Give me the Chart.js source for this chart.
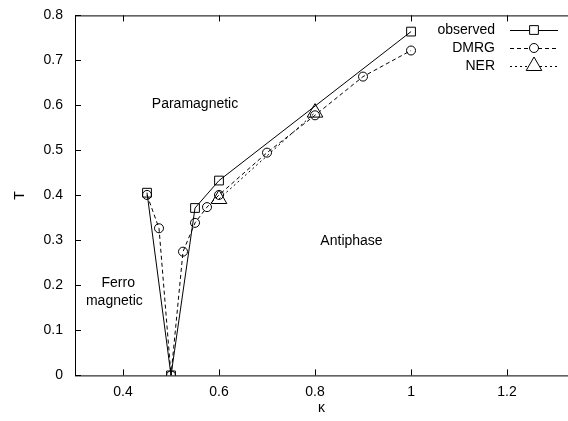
<!DOCTYPE html>
<html>
<head>
<meta charset="utf-8">
<script src="https://cdn.jsdelivr.net/npm/chart.js@4"></script>
<style>
  html, body { margin: 0; padding: 0; background: #fff; overflow: hidden; }
  body { width: 568px; height: 421px; position: relative; }
  /* frame runs past the right edge in the original, so the canvas is a bit wider and cropped */
  #wrap { width: 578px; height: 426px; position: absolute; left: 0; top: -5px; }
</style>
</head>
<body>
<div id="wrap"><canvas id="phaseChart"></canvas></div>
<script>
// data
const observedK = [0.45, 0.5, 0.55, 0.6, 1.0];
const observedT = [0.406, 0, 0.372, 0.433, 0.764];

const dmrgK = [0.45, 0.475, 0.5, 0.525, 0.55, 0.575, 0.6, 0.7, 0.8, 0.9, 1.0];
const dmrgT = [0.401, 0.327, 0, 0.275, 0.339, 0.374, 0.401, 0.495, 0.578, 0.664, 0.722];

const nerK = [0.6, 0.8];
const nerT = [0.392, 0.584];

const xTicks = [0.4, 0.6, 0.8, 1, 1.2];
const yTicks = [0, 0.1, 0.2, 0.3, 0.4, 0.5, 0.6, 0.7, 0.8];

const regionLabels = [
  { text: 'Paramagnetic', k: 0.55, t: 0.602 },
  { text: 'Antiphase', k: 0.876, t: 0.299 },
  { text: 'Ferro', k: 0.39, t: 0.205 },
  { text: 'magnetic', k: 0.382, t: 0.165 },
];

const FONT = '"Liberation Sans", Arial, Helvetica, sans-serif';

function toPoints(xs, ys) {
  return xs.map((x, i) => ({ x: x, y: ys[i] }));
}

const seriesStyle = [
  { label: 'observed', dash: [], pointStyle: 'rect', radius: 6.2 },
  { label: 'DMRG', dash: [4, 3], pointStyle: 'circle', radius: 4.5 },
  { label: 'NER', dash: [2, 3], pointStyle: 'triangle', radius: 9 },
];

// frame with inward ticks, legend and region names
const decorations = {
  id: 'decorations',
  afterDraw(chart) {
    const c = chart.ctx;
    const a = chart.chartArea;
    const xs = chart.scales.x, ys = chart.scales.y;
    c.save();
    c.strokeStyle = '#000';
    c.lineWidth = 1;
    c.setLineDash([]);
    c.beginPath();
    c.moveTo(a.left + 0.5, a.bottom + 0.5);
    c.lineTo(a.left + 0.5, a.top + 0.5);
    c.lineTo(a.right, a.top + 0.5);
    c.moveTo(a.left, a.bottom + 0.5);
    c.lineTo(a.right, a.bottom + 0.5);
    xTicks.forEach(v => {
      const px = Math.round(xs.getPixelForValue(v)) + 0.5;
      c.moveTo(px, a.bottom); c.lineTo(px, a.bottom - 6);
      c.moveTo(px, a.top); c.lineTo(px, a.top + 6);
    });
    yTicks.forEach(v => {
      const py = Math.round(ys.getPixelForValue(v)) + 0.5;
      c.moveTo(a.left, py); c.lineTo(a.left + 6, py);
    });
    c.stroke();

    c.fillStyle = '#000';
    c.font = '14px ' + FONT;
    c.textAlign = 'center';
    c.textBaseline = 'middle';
    regionLabels.forEach(r => {
      c.fillText(r.text, xs.getPixelForValue(r.k), ys.getPixelForValue(r.t));
    });

    // legend, top right inside the frame
    const textRight = 495, lineL = 510, lineR = 558, step = 18;
    const top = ys.getPixelForValue(0.768);
    chart.data.datasets.forEach((ds, i) => {
      const y = Math.round(top + i * step);
      c.fillStyle = '#000';
      c.textAlign = 'right';
      c.fillText(ds.label, textRight, y);
      c.beginPath();
      c.setLineDash(ds.borderDash);
      c.moveTo(lineL, y + 0.5); c.lineTo(lineR, y + 0.5);
      c.stroke();
      c.setLineDash([]);
      c.fillStyle = '#fff';
      Chart.helpers.drawPoint(c, {
        pointStyle: ds.pointStyle, radius: ds.pointRadius, borderWidth: 1, rotation: 0
      }, (lineL + lineR) / 2, y);
    });
    c.restore();
  }
};

const ctx = document.getElementById('phaseChart').getContext('2d');

const chart = new Chart(ctx, {
  type: 'scatter',
  data: {
    datasets: [
      { data: toPoints(observedK, observedT) },
      { data: toPoints(dmrgK, dmrgT) },
      { data: toPoints(nerK, nerT) },
    ].map((d, i) => ({
      label: seriesStyle[i].label,
      data: d.data,
      showLine: true,
      borderColor: '#000',
      backgroundColor: 'rgba(0,0,0,0)',
      borderWidth: 1,
      borderDash: seriesStyle[i].dash,
      pointStyle: seriesStyle[i].pointStyle,
      pointRadius: seriesStyle[i].radius,
      pointBorderWidth: 1,
      pointBorderColor: '#000',
      pointBackgroundColor: 'rgba(0,0,0,0)',
      tension: 0,
    })),
  },
  options: {
    responsive: true,
    maintainAspectRatio: false,
    animation: false,
    layout: { padding: { top: 0, right: 0, left: 0, bottom: 4 } },
    plugins: {
      legend: { display: false },
      tooltip: { enabled: false },
    },
    scales: {
      x: {
        type: 'linear',
        min: 0.3,
        max: 1.327,
        afterBuildTicks: axis => { axis.ticks = xTicks.map(v => ({ value: v })); },
        grid: { display: false, drawTicks: false },
        border: { display: false },
        ticks: {
          color: '#000',
          padding: 8,
          maxRotation: 0,
          font: { family: FONT, size: 14 },
          callback: v => String(v),
        },
        title: {
          display: true,
          text: 'κ',
          color: '#000',
          padding: { top: -8, bottom: 0 },
          font: { family: FONT, size: 14 },
        },
      },
      y: {
        type: 'linear',
        min: 0,
        max: 0.8,
        afterBuildTicks: axis => { axis.ticks = yTicks.map(v => ({ value: v })); },
        afterFit: axis => { axis.width = 75; },
        grid: { display: false, drawTicks: false },
        border: { display: false },
        ticks: {
          color: '#000',
          padding: 12,
          font: { family: FONT, size: 14 },
          callback: v => String(v),
        },
        title: {
          display: true,
          text: 'T',
          color: '#000',
          padding: { top: 12, bottom: 0 },
          font: { family: FONT, size: 14 },
        },
      },
    },
  },
  plugins: [decorations],
});
</script>
</body>
</html>
